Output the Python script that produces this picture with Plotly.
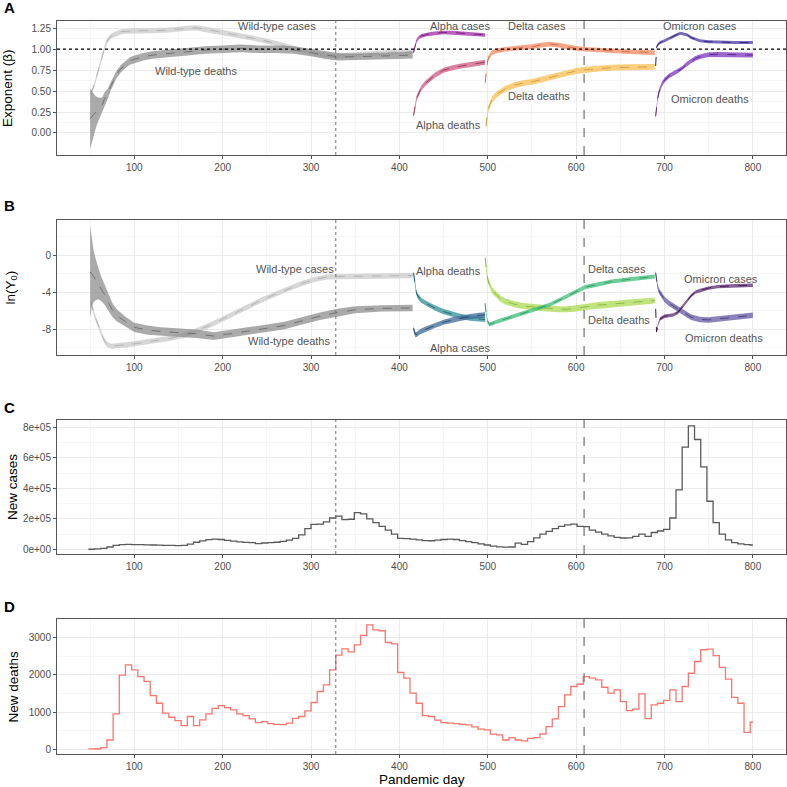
import plotly.graph_objects as go

# ---------------- DATA ----------------
# Panel A: scaling exponent (beta)
WT_CASES_A_DAYS = [51, 53, 55, 57, 59, 61, 63, 65, 67, 70, 73, 76, 80, 86, 92, 100, 120, 140, 160, 170, 180, 200, 220, 240, 260, 280, 300, 315, 330, 345, 370, 400, 415]
WT_CASES_A = [0.47, 0.52, 0.58, 0.66, 0.74, 0.82, 0.90, 0.97, 1.04, 1.11, 1.15, 1.17, 1.19, 1.21, 1.215, 1.22, 1.22, 1.23, 1.25, 1.255, 1.24, 1.20, 1.16, 1.12, 1.07, 1.01, 0.96, 0.93, 0.92, 0.93, 0.95, 0.97, 0.97]
WT_CASES_A_HW = 0.03

WT_DEATHS_A_DAYS = [50, 52, 54, 56, 58, 60, 62, 64, 66, 68, 70, 73, 76, 80, 85, 90, 95, 100, 110, 120, 140, 160, 180, 200, 220, 240, 260, 280, 300, 315, 330, 350, 380, 415]
WT_DEATHS_A = [0.17, 0.20, 0.22, 0.24, 0.27, 0.29, 0.31, 0.34, 0.40, 0.43, 0.47, 0.55, 0.62, 0.70, 0.77, 0.82, 0.86, 0.88, 0.91, 0.93, 0.95, 0.97, 0.99, 1.00, 1.01, 1.00, 1.00, 0.99, 0.96, 0.93, 0.91, 0.91, 0.92, 0.93]
WT_DEATHS_A_HW = [0.36, 0.30, 0.25, 0.20, 0.16, 0.13, 0.11, 0.09, 0.08, 0.07, 0.06, 0.05, 0.045, 0.045, 0.045, 0.045, 0.045, 0.045, 0.045, 0.045, 0.045, 0.045, 0.045, 0.045, 0.045, 0.045, 0.045, 0.045, 0.045, 0.045, 0.045, 0.04, 0.04, 0.04]

ALPHA_CASES_A_DAYS = [416, 417, 418, 419, 420, 422, 425, 430, 435, 440, 450, 460, 470, 480, 490, 497]
ALPHA_CASES_A = [0.96, 1.01, 1.06, 1.09, 1.11, 1.14, 1.16, 1.175, 1.185, 1.19, 1.20, 1.20, 1.19, 1.18, 1.175, 1.17]
ALPHA_CASES_A_HW = 0.022

ALPHA_DEATHS_A_DAYS = [416, 417, 418, 419, 420, 422, 425, 430, 435, 440, 450, 460, 470, 480, 490, 497]
ALPHA_DEATHS_A = [0.21, 0.28, 0.34, 0.39, 0.43, 0.48, 0.54, 0.60, 0.65, 0.69, 0.75, 0.78, 0.80, 0.82, 0.835, 0.845]
ALPHA_DEATHS_A_HW = 0.03

DELTA_CASES_A_DAYS = [497, 498, 499, 500, 502, 505, 510, 520, 530, 540, 550, 560, 570, 580, 590, 600, 610, 625, 640, 660, 689]
DELTA_CASES_A = [0.60, 0.70, 0.80, 0.87, 0.92, 0.96, 0.98, 1.00, 1.01, 1.02, 1.03, 1.05, 1.06, 1.05, 1.03, 1.01, 1.00, 0.99, 0.98, 0.97, 0.96]
DELTA_CASES_A_HW = 0.028

DELTA_DEATHS_A_DAYS = [498, 499, 500, 502, 505, 510, 515, 520, 530, 540, 550, 560, 570, 580, 590, 600, 610, 625, 640, 660, 689]
DELTA_DEATHS_A = [0.08, 0.18, 0.26, 0.33, 0.40, 0.46, 0.50, 0.53, 0.57, 0.595, 0.61, 0.635, 0.66, 0.69, 0.715, 0.74, 0.755, 0.77, 0.78, 0.785, 0.79]
DELTA_DEATHS_A_HW = 0.035

OMICRON_CASES_A_DAYS = [690, 691, 692, 695, 700, 705, 710, 715, 718, 722, 726, 730, 735, 740, 750, 760, 780, 800]
OMICRON_CASES_A = [0.80, 1.02, 1.05, 1.08, 1.10, 1.13, 1.15, 1.18, 1.19, 1.18, 1.17, 1.14, 1.12, 1.10, 1.09, 1.085, 1.08, 1.08]
OMICRON_CASES_A_HW = 0.018

OMICRON_DEATHS_A_DAYS = [690, 691, 692, 694, 697, 700, 705, 710, 715, 720, 725, 730, 735, 740, 750, 760, 780, 800]
OMICRON_DEATHS_A = [0.20, 0.30, 0.40, 0.50, 0.58, 0.63, 0.68, 0.71, 0.74, 0.77, 0.82, 0.86, 0.89, 0.91, 0.935, 0.94, 0.935, 0.93]
OMICRON_DEATHS_A_HW = 0.028

# Panel B: ln(Y0)
WT_CASES_B_DAYS = [51, 53, 55, 58, 61, 64, 67, 70, 74, 80, 90, 100, 120, 140, 160, 170, 185, 200, 215, 230, 245, 260, 275, 290, 305, 318, 330, 360, 415]
WT_CASES_B = [-5.0, -5.8, -6.5, -7.3, -8.1, -8.8, -9.4, -9.7, -9.85, -9.8, -9.7, -9.6, -9.3, -9.0, -8.6, -8.2, -7.6, -6.9, -6.2, -5.5, -4.8, -4.2, -3.6, -3.05, -2.6, -2.35, -2.3, -2.25, -2.2]
WT_CASES_B_HW = 0.28

WT_DEATHS_B_DAYS = [50, 52, 54, 56, 58, 60, 63, 66, 70, 75, 80, 85, 90, 100, 115, 130, 150, 170, 190, 210, 230, 250, 270, 290, 310, 330, 350, 380, 415]
WT_DEATHS_B = [-1.8, -2.0, -2.3, -2.6, -2.9, -3.2, -3.7, -4.2, -5.0, -5.9, -6.5, -6.9, -7.2, -7.8, -8.1, -8.25, -8.35, -8.5, -8.75, -8.5, -8.2, -7.9, -7.6, -7.1, -6.6, -6.2, -5.9, -5.75, -5.7]
WT_DEATHS_B_HW = [5.0, 3.5, 2.8, 2.3, 1.9, 1.6, 1.3, 1.1, 0.9, 0.75, 0.65, 0.6, 0.55, 0.5, 0.5, 0.45, 0.45, 0.45, 0.42, 0.42, 0.4, 0.4, 0.4, 0.4, 0.4, 0.4, 0.38, 0.35, 0.35]

ALPHA_DEATHS_B_DAYS = [416, 417, 418, 419, 420, 422, 425, 430, 440, 450, 460, 470, 480, 490, 497]
ALPHA_DEATHS_B = [-1.9, -2.7, -3.4, -3.9, -4.3, -4.6, -4.9, -5.2, -5.7, -6.1, -6.4, -6.65, -6.8, -6.9, -6.95]
ALPHA_DEATHS_B_HW = 0.28

ALPHA_CASES_B_DAYS = [416, 418, 420, 423, 430, 440, 450, 460, 470, 480, 490, 497]
ALPHA_CASES_B = [-7.9, -8.6, -8.55, -8.3, -8.0, -7.6, -7.25, -7.0, -6.8, -6.65, -6.5, -6.45]
ALPHA_CASES_B_HW = 0.28

DELTA_DEATHS_B_DAYS = [497, 498, 499, 500, 502, 505, 510, 515, 520, 530, 540, 550, 560, 570, 580, 590, 600, 610, 625, 640, 660, 689]
DELTA_DEATHS_B = [-0.3, -1.2, -2.0, -2.6, -3.2, -3.8, -4.3, -4.75, -5.0, -5.3, -5.5, -5.6, -5.7, -5.8, -5.85, -5.85, -5.75, -5.6, -5.4, -5.3, -5.15, -4.9]
DELTA_DEATHS_B_HW = 0.33

DELTA_CASES_B_DAYS = [497, 498, 500, 502, 510, 520, 530, 540, 550, 560, 570, 580, 590, 600, 610, 625, 640, 660, 689]
DELTA_CASES_B = [-5.2, -6.2, -7.2, -7.5, -7.2, -6.9, -6.55, -6.25, -5.95, -5.65, -5.35, -4.9, -4.4, -3.95, -3.45, -3.15, -2.85, -2.6, -2.3]
DELTA_CASES_B_HW = 0.22

OMICRON_DEATHS_B_DAYS = [690, 691, 692, 694, 697, 700, 705, 710, 715, 720, 725, 730, 740, 750, 760, 780, 800]
OMICRON_DEATHS_B = [-1.9, -2.7, -3.3, -3.9, -4.4, -4.8, -5.2, -5.5, -5.8, -6.1, -6.4, -6.7, -6.95, -7.0, -6.9, -6.7, -6.5]
OMICRON_DEATHS_B_HW = 0.3

OMICRON_CASES_B_DAYS = [690, 690.5, 691, 693, 695, 700, 705, 710, 715, 720, 725, 730, 735, 740, 750, 760, 780, 800]
OMICRON_CASES_B = [-5.8, -7.5, -8.3, -7.4, -6.9, -6.6, -6.5, -6.45, -6.2, -5.6, -5.0, -4.4, -4.0, -3.8, -3.55, -3.4, -3.3, -3.25]
OMICRON_CASES_B_HW = 0.18

# Panels C, D: weekly new cases / deaths (week start day = WEEK0 + 7*i)
WEEK0 = 48
NEW_CASES = [0, 2000, 6000, 15000, 25000, 31000, 32000, 30000, 30000, 29000,
             28000, 27000, 26000, 25000, 24000, 26000, 34000, 46000, 55000, 63000,
             66000, 64000, 59000, 54000, 49000, 45000, 43000, 37000, 41000, 44000,
             46000, 52000, 60000, 72000, 95000, 135000, 163000, 165000, 180000, 205000,
             218000, 195000, 197000, 240000, 232000, 200000, 175000, 150000, 125000, 100000,
             72000, 70000, 66000, 61000, 57000, 56000, 60000, 64000, 66000, 64000,
             57000, 50000, 43000, 35000, 28000, 21000, 16000, 14000, 15000, 40000,
             32000, 50000, 75000, 100000, 118000, 135000, 150000, 160000, 165000, 150000,
             148000, 125000, 112000, 100000, 88000, 78000, 74000, 75000, 85000, 100000,
             85000, 110000, 120000, 130000, 205000, 390000, 670000, 810000, 720000, 540000,
             315000, 175000, 100000, 61000, 44000, 35000, 30000, 28000]
NEW_DEATHS = [10, 15, 45, 250, 950, 1990, 2265, 2130, 1950, 1820,
              1440, 1235, 970, 860, 770, 635, 880, 635, 790, 950,
              1100, 1170, 1120, 1060, 950, 905, 815, 715, 745, 690,
              670, 660, 700, 830, 880, 1030, 1255, 1550, 1730, 2130,
              2525, 2695, 2615, 2800, 3055, 3340, 3205, 3180, 2865, 2830,
              2060, 1910, 1505, 1235, 905, 880, 780, 715, 700, 690,
              670, 655, 600, 540, 520, 405, 385, 250, 315, 250,
              225, 295, 315, 410, 610, 815, 1145, 1460, 1685, 1745,
              1950, 1910, 1860, 1665, 1505, 1595, 1280, 1040, 1075, 1485,
              825, 1190, 1235, 1310, 1595, 1280, 1685, 2040, 2355, 2670,
              2685, 2515, 2200, 1880, 1395, 1235, 455, 725]
END_DAY = 800

ALPHA_START = 328   # dotted line
DELTA_START = 609   # dashed line

# ---------------- FIGURE ----------------
W = H = 787
FONT = "Liberation Sans"
fig = go.Figure()

panels = [
    # top px, bottom px, y range
    (21, 155, [-0.263, 1.337]),
    (220, 355, [-10.8, 3.82]),
    (420, 554, [-31000, 848000]),
    (619, 754, [-126, 3495]),
]
X_LEFT, X_RIGHT = 57, 786


def band(k, days, mid, hw, fill, line):
    if not isinstance(hw, list):
        hw = [hw] * len(days)
    up = [m + h for m, h in zip(mid, hw)]
    lo = [m - h for m, h in zip(mid, hw)]
    ax = "" if k == 1 else str(k)
    fig.add_trace(go.Scatter(x=days + days[::-1], y=up + lo[::-1], fill="toself",
                             fillcolor=fill, line=dict(width=0), mode="lines",
                             xaxis="x" + ax, yaxis="y" + ax, hoverinfo="skip", showlegend=False))
    fig.add_trace(go.Scatter(x=days, y=mid, mode="lines",
                             line=dict(color=line, width=1, dash="dash"),
                             xaxis="x" + ax, yaxis="y" + ax, hoverinfo="skip", showlegend=False))


def rgba(hexc, a):
    h = hexc.lstrip("#")
    r, g, b = int(h[0:2], 16), int(h[2:4], 16), int(h[4:6], 16)
    return f"rgba({r},{g},{b},{a})"


def darker(hexc, f=0.75):
    h = hexc.lstrip("#")
    r, g, b = int(h[0:2], 16), int(h[2:4], 16), int(h[4:6], 16)
    return f"rgb({int(r*f)},{int(g*f)},{int(b*f)})"


A_COLORS = {
    "wtc": "#c9c9c9", "wtd": "#8e8e8e",
    "ac": "#a22ba8", "ad": "#cf5884",
    "dc": "#f48a62", "dd": "#fbbd52",
    "oc": "#4a38a8", "od": "#7b35c0",
}
B_COLORS = {
    "wtc": "#c9c9c9", "wtd": "#8e8e8e",
    "ad": "#2f8f96", "ac": "#3e6a98",
    "dc": "#3dbd7a", "dd": "#a9db52",
    "oc": "#5e2a74", "od": "#6658a6",
}

AL = 0.75
# Panel A
band(1, WT_CASES_A_DAYS, WT_CASES_A, WT_CASES_A_HW, rgba(A_COLORS["wtc"], AL), darker(A_COLORS["wtc"], 0.9))
band(1, WT_DEATHS_A_DAYS, WT_DEATHS_A, WT_DEATHS_A_HW, rgba(A_COLORS["wtd"], AL), darker(A_COLORS["wtd"], 0.8))
band(1, ALPHA_CASES_A_DAYS, ALPHA_CASES_A, ALPHA_CASES_A_HW, rgba(A_COLORS["ac"], AL), darker(A_COLORS["ac"]))
band(1, ALPHA_DEATHS_A_DAYS, ALPHA_DEATHS_A, ALPHA_DEATHS_A_HW, rgba(A_COLORS["ad"], AL), darker(A_COLORS["ad"]))
band(1, DELTA_CASES_A_DAYS, DELTA_CASES_A, DELTA_CASES_A_HW, rgba(A_COLORS["dc"], AL), darker(A_COLORS["dc"], 0.85))
band(1, DELTA_DEATHS_A_DAYS, DELTA_DEATHS_A, DELTA_DEATHS_A_HW, rgba(A_COLORS["dd"], AL), darker(A_COLORS["dd"], 0.85))
band(1, OMICRON_CASES_A_DAYS, OMICRON_CASES_A, OMICRON_CASES_A_HW, rgba(A_COLORS["oc"], AL), darker(A_COLORS["oc"]))
band(1, OMICRON_DEATHS_A_DAYS, OMICRON_DEATHS_A, OMICRON_DEATHS_A_HW, rgba(A_COLORS["od"], AL), darker(A_COLORS["od"]))
# Panel B
band(2, WT_CASES_B_DAYS, WT_CASES_B, WT_CASES_B_HW, rgba(B_COLORS["wtc"], AL), darker(B_COLORS["wtc"], 0.9))
band(2, WT_DEATHS_B_DAYS, WT_DEATHS_B, WT_DEATHS_B_HW, rgba(B_COLORS["wtd"], AL), darker(B_COLORS["wtd"], 0.8))
band(2, ALPHA_DEATHS_B_DAYS, ALPHA_DEATHS_B, ALPHA_DEATHS_B_HW, rgba(B_COLORS["ad"], AL), darker(B_COLORS["ad"]))
band(2, ALPHA_CASES_B_DAYS, ALPHA_CASES_B, ALPHA_CASES_B_HW, rgba(B_COLORS["ac"], AL), darker(B_COLORS["ac"]))
band(2, DELTA_DEATHS_B_DAYS, DELTA_DEATHS_B, DELTA_DEATHS_B_HW, rgba(B_COLORS["dd"], AL), darker(B_COLORS["dd"], 0.85))
band(2, DELTA_CASES_B_DAYS, DELTA_CASES_B, DELTA_CASES_B_HW, rgba(B_COLORS["dc"], AL), darker(B_COLORS["dc"], 0.85))
band(2, OMICRON_DEATHS_B_DAYS, OMICRON_DEATHS_B, OMICRON_DEATHS_B_HW, rgba(B_COLORS["od"], AL), darker(B_COLORS["od"]))
band(2, OMICRON_CASES_B_DAYS, OMICRON_CASES_B, OMICRON_CASES_B_HW, rgba(B_COLORS["oc"], AL), darker(B_COLORS["oc"]))

# Panels C and D (weekly steps)
week_days_c = [WEEK0 + 7 * i for i in range(len(NEW_CASES))] + [END_DAY]
week_days_d = [WEEK0 + 7 * i for i in range(len(NEW_DEATHS))] + [END_DAY]
fig.add_trace(go.Scatter(x=week_days_c, y=NEW_CASES + NEW_CASES[-1:], mode="lines", line_shape="hv",
                         line=dict(color="#5a5a5a", width=1.3), xaxis="x3", yaxis="y3", showlegend=False))
fig.add_trace(go.Scatter(x=week_days_d, y=NEW_DEATHS + NEW_DEATHS[-1:], mode="lines", line_shape="hv",
                         line=dict(color="#f8766d", width=1.3), xaxis="x4", yaxis="y4", showlegend=False))

# Axes
tick_font = dict(family=FONT, size=10, color="#4d4d4d")
shapes = []
for i, (top, bot, yr) in enumerate(panels, start=1):
    sfx = "" if i == 1 else str(i)
    ydom = [1 - bot / H, 1 - top / H]
    xdom = [X_LEFT / W, X_RIGHT / W]
    xa = dict(domain=xdom, anchor="y" + sfx, range=[12.5, 837.5], tick0=0, dtick=100,
              showgrid=True, gridcolor="#ebebeb", gridwidth=1,
              minor=dict(showgrid=True, gridcolor="#f5f5f5", gridwidth=0.6, dtick=50, tick0=0),
              showline=True, mirror=True, linecolor="#555555", linewidth=1,
              ticks="outside", ticklen=3, tickcolor="#555555", tickfont=tick_font, zeroline=False)
    ya = dict(domain=ydom, anchor="x" + sfx, range=yr, showgrid=True, gridcolor="#ebebeb", gridwidth=1,
              showline=True, mirror=True, linecolor="#555555", linewidth=1,
              ticks="outside", ticklen=3, tickcolor="#555555", tickfont=tick_font, zeroline=False)
    if i == 1:
        ya.update(tickvals=[0, 0.25, 0.5, 0.75, 1.0, 1.25],
                  ticktext=["0.00", "0.25", "0.50", "0.75", "1.00", "1.25"],
                  minor=dict(showgrid=True, gridcolor="#f5f5f5", gridwidth=0.6,
                             tickvals=[0.125, 0.375, 0.625, 0.875, 1.125]))
    elif i == 2:
        ya.update(tickvals=[-8, -4, 0], ticktext=["-8", "-4", "0"],
                  minor=dict(showgrid=True, gridcolor="#f5f5f5", gridwidth=0.6, tickvals=[-10, -6, -2, 2]))
    elif i == 3:
        ya.update(tickvals=[0, 200000, 400000, 600000, 800000],
                  ticktext=["0e+00", "2e+05", "4e+05", "6e+05", "8e+05"],
                  minor=dict(showgrid=True, gridcolor="#f5f5f5", gridwidth=0.6,
                             tickvals=[100000, 300000, 500000, 700000]))
    else:
        ya.update(tickvals=[0, 1000, 2000, 3000], ticktext=["0", "1000", "2000", "3000"],
                  minor=dict(showgrid=True, gridcolor="#f5f5f5", gridwidth=0.6, tickvals=[500, 1500, 2500]))
    fig.layout["xaxis" + sfx] = xa
    fig.layout["yaxis" + sfx] = ya
    shapes.append(dict(type="line", xref="x" + sfx, yref="y" + sfx + " domain", x0=ALPHA_START, x1=ALPHA_START,
                       y0=0, y1=1, line=dict(color="#707070", width=1, dash="dot")))
    shapes.append(dict(type="line", xref="x" + sfx, yref="y" + sfx + " domain", x0=DELTA_START, x1=DELTA_START,
                       y0=0, y1=1, line=dict(color="#707070", width=1.2, dash="dash")))

shapes.append(dict(type="line", xref="x domain", yref="y", x0=0, x1=1, y0=1, y1=1,
                   line=dict(color="#000000", width=1.3, dash="dot")))

annotations = []
lab_font = dict(family=FONT, size=11, color="#555555")


def lab(k, x, y, text):
    sfx = "" if k == 1 else str(k)
    annotations.append(dict(x=x, y=y, xref="x" + sfx, yref="y" + sfx, text=text, showarrow=False,
                            font=lab_font, xanchor="center", yanchor="middle"))


lab(1, 262, 1.275, "Wild-type cases")
lab(1, 170, 0.745, "Wild-type deaths")
lab(1, 469, 1.275, "Alpha cases")
lab(1, 556, 1.275, "Delta cases")
lab(1, 740, 1.275, "Omicron cases")
lab(1, 455, 0.096, "Alpha deaths")
lab(1, 558, 0.446, "Delta deaths")
lab(1, 752, 0.40, "Omicron deaths")

lab(2, 282, -1.53, "Wild-type cases")
lab(2, 275, -9.27, "Wild-type deaths")
lab(2, 455, -1.74, "Alpha deaths")
lab(2, 469, -10.0, "Alpha cases")
lab(2, 646, -1.53, "Delta cases")
lab(2, 648, -7.0, "Delta deaths")
lab(2, 764, -2.55, "Omicron cases")
lab(2, 767, -9.0, "Omicron deaths")

# Panel letters
for letter, ypx in [("A", 8), ("B", 206), ("C", 407), ("D", 606)]:
    annotations.append(dict(x=2 / W, y=1 - ypx / H, xref="paper", yref="paper", text="<b>" + letter + "</b>",
                            showarrow=False, xanchor="left", yanchor="middle",
                            font=dict(family=FONT, size=15, color="#000000")))

# Y axis titles
title_font = dict(family=FONT, size=13.5, color="#000000")
for text, xpx, (top, bot, _) in [("Exponent (β)", 8, panels[0]), ("ln(Y<sub>0</sub>)", 11, panels[1]),
                                 ("New cases", 13, panels[2]), ("New deaths", 13, panels[3])]:
    annotations.append(dict(x=xpx / W, y=1 - (top + bot) / 2 / H, xref="paper", yref="paper", text=text,
                            showarrow=False, textangle=-90, xanchor="center", yanchor="middle", font=title_font))

annotations.append(dict(x=(X_LEFT + X_RIGHT) / 2 / W, y=1 - 779 / H, xref="paper", yref="paper",
                        text="Pandemic day", showarrow=False, xanchor="center", yanchor="middle", font=title_font))

fig.update_layout(width=W, height=H, margin=dict(l=0, r=0, t=0, b=0),
                  paper_bgcolor="white", plot_bgcolor="white",
                  shapes=shapes, annotations=annotations, showlegend=False,
                  font=dict(family=FONT))

fig.write_html("out.html")
